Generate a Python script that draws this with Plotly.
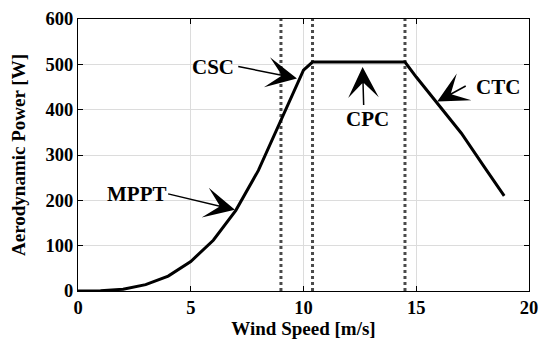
import plotly.graph_objects as go

wind_speed = [0, 1, 2, 3, 4, 5, 6, 7, 8, 9, 10, 10.4, 14.5, 15, 16, 17, 18, 18.9]
power = [0, 0.5, 4, 14, 33, 65, 112, 178, 266, 378, 487, 505, 505, 472, 410, 348, 275, 210]
region_bounds = [9.0, 10.4, 14.5]
x_ticks = [0, 5, 10, 15, 20]
y_ticks = [0, 100, 200, 300, 400, 500, 600]

# label, text pos (x, y), arrow tail (x, y), arrow head (x, y)
labels = [
    ("CSC", (5.99, 494), (7.04, 496), (9.71, 469)),
    ("MPPT", (2.6, 214), (3.93, 215), (6.96, 179)),
    ("CPC", (12.82, 379), (12.67, 407), (12.62, 494)),
    ("CTC", (18.62, 451), (17.26, 454), (15.93, 418)),
]

FONT = "Liberation Serif"

fig = go.Figure()
for xb in region_bounds:
    fig.add_trace(go.Scatter(x=[xb, xb], y=[0, 600], mode="lines",
                             line=dict(color="#4a4a4a", width=3, dash="dot"),
                             showlegend=False, hoverinfo="skip"))
fig.add_trace(go.Scatter(x=wind_speed, y=power, mode="lines",
                         line=dict(color="black", width=3), showlegend=False))

anns = []
for txt, tp, tail, head in labels:
    anns.append(dict(x=tp[0], y=tp[1], xref="x", yref="y", text="<b>%s</b>" % txt,
                     showarrow=False, font=dict(family=FONT, size=21, color="black")))
    anns.append(dict(x=head[0], y=head[1], ax=tail[0], ay=tail[1], xref="x", yref="y",
                     axref="x", ayref="y", text="", showarrow=True, arrowhead=3,
                     arrowsize=3.4, arrowwidth=1.5, arrowcolor="black", standoff=0))

axis_common = dict(showline=True, linecolor="black", linewidth=1.2, mirror="ticks",
                   ticks="inside", ticklen=5, tickcolor="black", automargin=False,
                   showgrid=True, gridcolor="#dcdcdc", gridwidth=1, zeroline=False,
                   tickfont=dict(family=FONT, size=18.5, color="black"))

fig.update_layout(
    width=542, height=336,
    margin=dict(l=70, r=21, t=11, b=53),
    paper_bgcolor="white", plot_bgcolor="white",
    xaxis=dict(range=[0, 20], tickvals=x_ticks, ticktext=["<b>%d</b>" % v for v in x_ticks],
               title=dict(text="<b>Wind Speed [m/s]</b>", standoff=0,
                          font=dict(family=FONT, size=19, color="black")),
               **axis_common),
    yaxis=dict(range=[0, 600], tickvals=y_ticks, ticktext=["<b>%d</b>" % v for v in y_ticks],
               title=dict(text="<b>Aerodynamic Power [W]</b>",
                          font=dict(family=FONT, size=19, color="black")),
               **axis_common),
    annotations=anns,
)

fig.write_html("out.html")
